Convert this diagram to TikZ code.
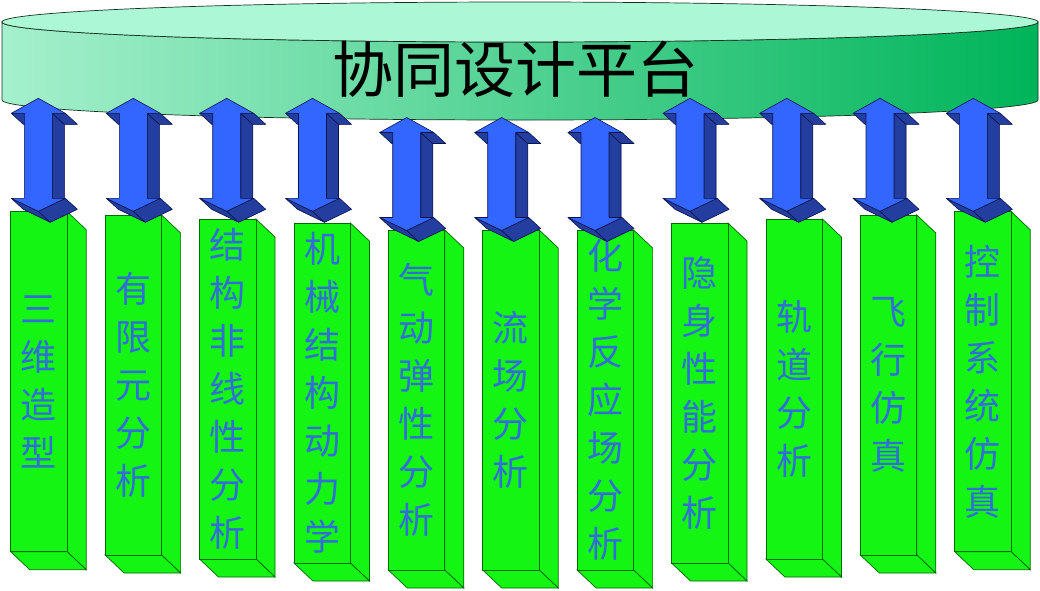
\documentclass[tikz,border=0pt]{standalone}
\usepackage{fontspec}
\newfontfamily\cjk{Noto Sans CJK SC}
\definecolor{discTop}{RGB}{172,248,214}
\definecolor{discLeft}{RGB}{165,240,205}
\definecolor{discRight}{RGB}{0,180,90}
\definecolor{discEdge}{RGB}{20,50,30}
\definecolor{pillarGreen}{RGB}{20,245,20}
\definecolor{pillarEdge}{RGB}{0,105,0}
\definecolor{pillarInk}{RGB}{50,110,215}
\definecolor{arrowFace}{RGB}{51,102,255}
\definecolor{arrowSide}{RGB}{36,62,160}
\definecolor{arrowEdge}{RGB}{10,20,80}
\tikzset{
	pillarface/.style={fill=pillarGreen, draw=pillarEdge, line width=0.7pt},
	pillartext/.style={inner sep=0pt, align=center, text=pillarInk, font=\cjk\fontsize{36}{48}\selectfont},
	arrowfront/.style={fill=arrowFace, draw=arrowEdge, line width=0.6pt, line join=round},
	arrowback/.style={fill=arrowSide, draw=arrowEdge, line width=0.6pt, line join=round}
}
\def\pillar(#1,#2)[#3]#4{
	\draw[pillarface] ({#1+56.5},#2) -- ++(19,18) -- ++(0,340) -- ++(-19,-18) -- cycle;
	\draw[pillarface] (#1,{#2+340}) -- ++(56.5,0) -- ++(19,18) -- ++(-56.5,0) -- cycle;
	\draw[pillarface] (#1,#2) rectangle ++(56.5,340);
	\node[pillartext] (#3) at ({#1+28.25},{#2+170}) {#4};
}
\def\dualarrow(#1,#2){
	\begin{scope}[shift={(#1,#2)}]
		\fill[arrowSide, shift={(12,11)}] (0,0) -- (27,15) -- (14,15) -- (14,100) -- (27,100) -- (0,113) -- (-27,100) -- (-14,100) -- (-14,15) -- (-27,15) -- cycle;
		\draw[arrowback] (14,15) -- (14,100) -- (26,111) -- (26,26) -- cycle;
		\draw[arrowback] (27,15) -- (14,15) -- (26,26) -- (39,26) -- cycle;
		\draw[arrowback] (-14,15) -- (-27,15) -- (-15,26) -- (-2,26) -- cycle;
		\draw[arrowback] (0,113) -- (-27,100) -- (-15,111) -- (12,124) -- cycle;
		\draw[arrowback] (27,100) -- (0,113) -- (12,124) -- (39,111) -- cycle;
		\draw[arrowfront] (0,0) -- (27,15) -- (14,15) -- (14,100) -- (27,100) -- (0,113) -- (-27,100) -- (-14,100) -- (-14,15) -- (-27,15) -- cycle;
	\end{scope}
}

\begin{document}
\begin{tikzpicture}[x=1pt, y=-1pt]
			%%%%% START %%%%%
			
			\useasboundingbox[fill=white] (0,0) rectangle (1040,590);
			
			\shadedraw[left color=discLeft, right color=discRight, draw=discEdge, line width=0.7pt] (2,22) -- (2,100) arc (180:0:518 and 20) -- (1038,22) arc (0:180:518 and 20) -- cycle;
			\draw[fill=discTop, draw=discEdge, line width=0.7pt] (520,22) ellipse (518 and 20);
			\node[inner sep=0pt, font=\cjk\fontsize{61}{63}\selectfont] (title) at (515,69) {协同设计平台};
			
			\pillar(10.7,211.7)[t1]{三\\维\\造\\型}
			\pillar(105.1,215)[t2]{有\\限\\元\\分\\析}
			\pillar(199.5,219)[t3]{结\\构\\非\\线\\性\\分\\析}
			\pillar(293.9,223)[t4]{机\\械\\结\\构\\动\\力\\学}
			\pillar(388.3,230)[t5]{气\\动\\弹\\性\\分\\析}
			\pillar(482.7,230)[t6]{流\\场\\分\\析}
			\pillar(577.1,230)[t7]{化\\学\\反\\应\\场\\分\\析}
			\pillar(671.5,223)[t8]{隐\\身\\性\\能\\分\\析}
			\pillar(765.9,219)[t9]{轨\\道\\分\\析}
			\pillar(860.3,215)[t10]{飞\\行\\仿\\真}
			\pillar(954.7,211.7)[t11]{控\\制\\系\\统\\仿\\真}
			
			\dualarrow(38.3,98.3)
			\dualarrow(133.3,98.3)
			\dualarrow(226.7,98.3)
			\dualarrow(312.5,98.3)
			\dualarrow(406.7,117.5)
			\dualarrow(501.7,117.5)
			\dualarrow(595,117.5)
			\dualarrow(690,98.3)
			\dualarrow(786.7,98.3)
			\dualarrow(880,98.3)
			\dualarrow(973.3,98.3)
			
			%%%%% END %%%%%
\end{tikzpicture}
\end{document}
